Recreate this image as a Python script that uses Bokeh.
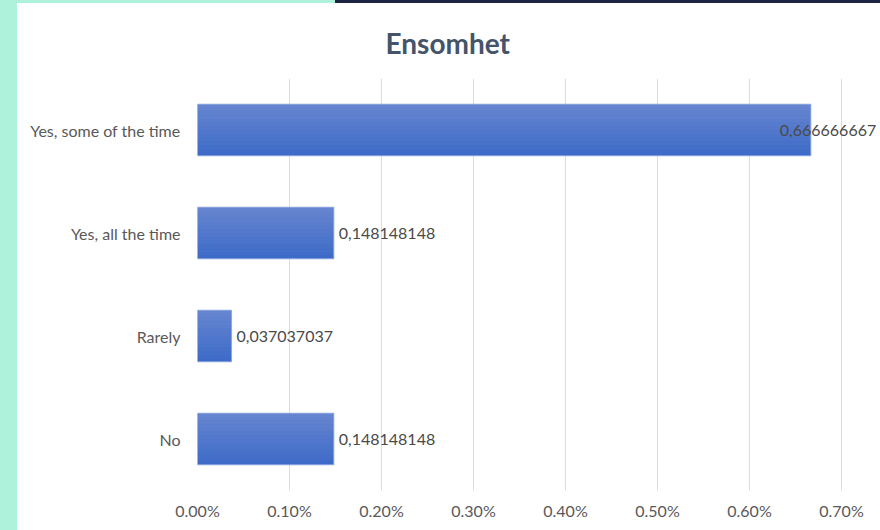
from bokeh.plotting import figure
from bokeh.models import FixedTicker, LabelSet, ColumnDataSource, Range1d, Div
from bokeh.layouts import row, column
from bokeh.transform import dodge
from bokeh.embed import file_html
from bokeh.resources import INLINE
from bokeh.core.properties import value

title_text = "Ensomhet"
categories = ["Yes, some of the time", "Yes, all the time", "Rarely", "No"]
values = [0.666666667, 0.148148148, 0.037037037, 0.148148148]
value_labels = ["0,666666667", "0,148148148", "0,037037037", "0,148148148"]
tick_values = [0.0, 0.1, 0.2, 0.3, 0.4, 0.5, 0.6, 0.7]
tick_labels = ["0.00%", "0.10%", "0.20%", "0.30%", "0.40%", "0.50%", "0.60%", "0.70%"]

FONT = "Lato"
STRIP_W, STRIP_H = 17, 3
W, H = 880 - STRIP_W, 530 - STRIP_H
ML, MR, MT, MB = 180, 0, 75, 40

p = figure(width=W, height=H, y_range=list(reversed(categories)),
           x_range=Range1d(0, 0.7424), output_backend="svg", toolbar_location=None,
           min_border_left=ML, min_border_right=MR, min_border_top=MT, min_border_bottom=MB)
p.outline_line_color = None
p.background_fill_color = "white"
p.border_fill_color = "white"

p.title.text = title_text
p.title.align = "left"
p.title.offset = 188
p.title.standoff = 38
p.title.text_font = FONT
p.title.text_font_size = "28px"
p.title.text_font_style = "bold"
p.title.text_color = "#44546a"

offsets = [5 if v < 0.6 else -31 for v in values]
src = ColumnDataSource(dict(cat=categories, val=values, lab=value_labels, xoff=offsets))

BAR_H = 0.5
p.hbar(y="cat", right="val", left=0, height=BAR_H, source=src,
       fill_color="#5079cb", line_color=None)
n = 14
c0 = (60, 106, 199)
c1 = (104, 134, 208)
step = BAR_H / n
for i in range(n):
    t = (i + 0.5) / n
    col = "#%02x%02x%02x" % tuple(int(round(a + (b - a) * t)) for a, b in zip(c0, c1))
    off = -BAR_H / 2 + (i + 0.5) * step
    p.hbar(y=dodge("cat", off, range=p.y_range), right="val", left=0,
           height=step, source=src, fill_color=col, line_color=None)
p.hbar(y="cat", right="val", left=0, height=BAR_H, source=src,
       fill_color=None, line_color="#8fa8de", line_width=1)

labels = LabelSet(x="val", y="cat", text="lab", x_offset="xoff", source=src,
                  text_baseline="middle", text_align="left",
                  text_font=value(FONT), text_font_size=value("16px"), text_color="#4a4a4a")
p.add_layout(labels)

ticker = FixedTicker(ticks=tick_values)
p.xaxis.ticker = ticker
p.xgrid.ticker = ticker
p.xaxis.major_label_overrides = {t: s for t, s in zip(tick_values, tick_labels)}
p.xgrid.grid_line_color = "#d9dde6"
p.ygrid.grid_line_color = None

for ax in (p.xaxis, p.yaxis):
    ax.axis_line_color = None
    ax.major_tick_line_color = None
    ax.minor_tick_line_color = None
    ax.major_label_text_color = "#595959"
    ax.major_label_text_font = FONT
    ax.major_label_text_font_size = "16px"
p.xaxis.major_label_standoff = 4
p.yaxis.major_label_standoff = 11

left_strip = Div(text="", width=STRIP_W, height=530, margin=0,
                 styles={"background-color": "#aef2dc"})
top_mint = Div(text="", width=335 - STRIP_W, height=STRIP_H, margin=0,
               styles={"background-color": "#aef2dc"})
top_navy = Div(text="", width=880 - 335, height=STRIP_H, margin=0,
               styles={"background-color": "#1d2442"})
layout = row(left_strip, column(row(top_mint, top_navy, spacing=0), p, spacing=0), spacing=0)

open("out.html", "w").write(file_html(layout, INLINE))
